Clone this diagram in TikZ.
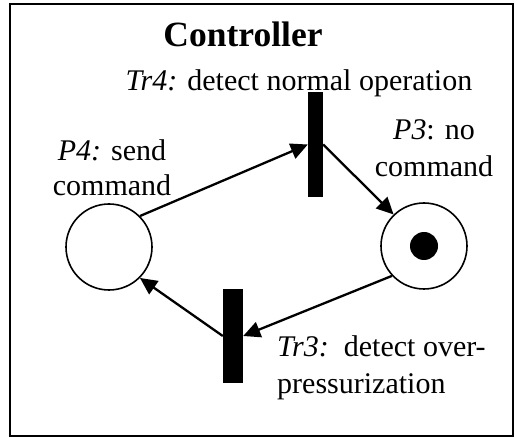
\documentclass[tikz,border=0pt]{standalone}
\usepackage{fontspec}
\setmainfont{Liberation Serif}
\usetikzlibrary{arrows.meta}

\tikzset{
  place/.style={circle, draw, line width=1.6pt, minimum size=86pt, inner sep=0pt},
  token/.style={circle, fill=black, minimum size=28pt, inner sep=0pt},
  transition/.style={rectangle, fill=black, inner sep=0pt},
  arc/.style={line width=2.3pt, -{Triangle[length=17pt, width=16pt]}},
  lbl/.style={font=\fontsize{30}{36}\selectfont, inner sep=0pt},
}

\begin{document}
\begin{tikzpicture}[x=1pt, y=-1pt]
  \useasboundingbox (0,0) rectangle (517,438);
  \draw[line width=1.5pt] (10,4) rectangle (513,436);

  \node[font=\fontsize{35.5}{42}\selectfont\bfseries, anchor=base, inner sep=0pt] (title) at (243,47) {Controller};

  % places
  \node[place] (P4) at (109,247) {};
  \node[place] (P3) at (424,246) {};
  \node[token] (tok) at (P3) {};

  % transitions
  \node[transition, minimum width=15pt, minimum height=105pt] (Tr4) at (315.5,144.5) {};
  \node[transition, minimum width=20pt, minimum height=94pt] (Tr3) at (233,336) {};

  % labels
  \node[lbl, anchor=base] (lTr4) at (299,91) {\textit{Tr4:} detect normal operation};
  \node[lbl, anchor=base] (lP4a) at (112,161) {\textit{P4:} send};
  \node[lbl, anchor=base] (lP4b) at (112,196) {command};
  \node[lbl, anchor=base] (lP3a) at (434,140) {\textit{P3}: no};
  \node[lbl, anchor=base] (lP3b) at (434,177) {command};
  \node[lbl, anchor=base west] (lTr3a) at (277,357) {\textit{Tr3:}\ \ detect over-};
  \node[lbl, anchor=base west] (lTr3b) at (277,393) {pressurization};

  % arcs
  \draw[arc] (P4.45) -- (Tr4.west);
  \draw[arc] (Tr4.east) -- (P3.134);
  \draw[arc] (P3.223) -- (Tr3.east);
  \draw[arc] (Tr3.west) -- (P4.315);
\end{tikzpicture}
\end{document}
